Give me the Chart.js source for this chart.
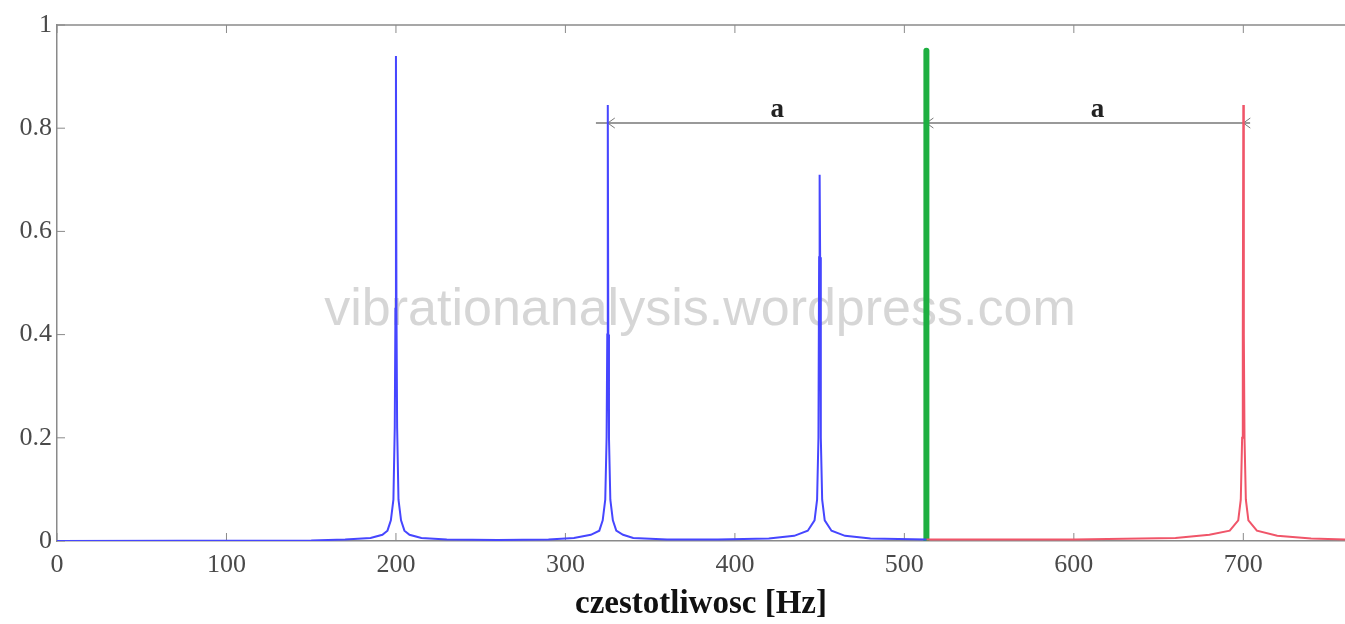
<!DOCTYPE html>
<html>
<head>
<meta charset="utf-8">
<script src="https://cdn.jsdelivr.net/npm/chart.js@4.4.1/dist/chart.umd.min.js"></script>
<style>
	html, body { margin: 0; padding: 0; background: #fff; }
	#wrap { width: 1345px; height: 624px; }
</style>
</head>
<body>
<div id="wrap"><canvas id="c"></canvas></div>
<script>

// spectrum, part below the green line (Hz, amplitude)
let blueFreq = [0, 150, 170, 185, 192, 195, 197, 198.5, 199.3, 199.7, 200, 200.3, 200.7, 201.5, 203, 205, 208, 215, 230, 260,
	290, 305, 315, 320, 322, 323.5, 324.3, 324.7, 325, 325.3, 325.7, 326.5, 328, 330, 334, 340, 360,
	390, 420, 435, 443, 447, 448.5, 449.3, 449.7, 450, 450.3, 450.7, 451.5, 453, 457, 465, 480, 513];
let blueAmp = [0, 0.001, 0.003, 0.006, 0.012, 0.02, 0.04, 0.08, 0.22, 0.45, 0.94, 0.45, 0.22, 0.08, 0.04, 0.02, 0.012, 0.006, 0.003, 0.002,
	0.003, 0.006, 0.012, 0.02, 0.04, 0.08, 0.2, 0.4, 0.845, 0.4, 0.2, 0.08, 0.04, 0.02, 0.012, 0.006, 0.003,
	0.003, 0.005, 0.01, 0.02, 0.04, 0.08, 0.2, 0.55, 0.71, 0.55, 0.2, 0.08, 0.04, 0.02, 0.01, 0.005, 0.003];

// mirrored part
let redFreq = [513, 600, 660, 680, 692, 697, 698.5, 699.3, 699.7, 700, 700.3, 700.7, 701.5, 703, 708, 720, 740, 760];
let redAmp = [0.003, 0.003, 0.006, 0.012, 0.02, 0.04, 0.08, 0.2, 0.4, 0.845, 0.4, 0.2, 0.08, 0.04, 0.02, 0.01, 0.005, 0.003];

// mirror line
let mirrorFreq = [513, 513];
let mirrorAmp = [0, 0.95];

let xTicks = [0, 100, 200, 300, 400, 500, 600, 700];
let yTicks = [0, 0.2, 0.4, 0.6, 0.8, 1];

// distance markers "a"
let arrowLevel = 0.81;
let arrowStart = 318;
let arrowEnd = 704;
let arrowHeads = [325, 513, 700];
let arrowLabels = ["a", "a"];
let arrowLabelFreq = [425, 614];
let arrowLabelLevel = 0.835;

let watermark = "vibrationanalysis.wordpress.com";

function toPoints(xs, ys) {
	let pts = [];
	for (let i = 0; i < xs.length; i++) pts.push({ x: xs[i], y: ys[i] });
	return pts;
}

let serif = "'Liberation Serif', 'DejaVu Serif', serif";

let extras = {
	id: 'extras',
	beforeDatasetsDraw(chart) {
		let ctx = chart.ctx;
		let xs = chart.scales.x;
		let ys = chart.scales.y;
		let area = chart.chartArea;

		ctx.save();
		// watermark
		ctx.font = "52px 'Liberation Sans', Arial, sans-serif";
		ctx.fillStyle = "rgba(200,200,200,0.75)";
		ctx.textAlign = "center";
		ctx.textBaseline = "middle";
		ctx.fillText(watermark, 700, 311);

		// frame top + inward ticks
		ctx.strokeStyle = "#8a8a8a";
		ctx.lineWidth = 1.5;
		ctx.beginPath();
		ctx.moveTo(area.left, area.top);
		ctx.lineTo(area.right, area.top);
		ctx.stroke();

		ctx.lineWidth = 1;
		ctx.beginPath();
		xTicks.forEach(function(v) {
			let px = xs.getPixelForValue(v);
			ctx.moveTo(px, area.bottom);
			ctx.lineTo(px, area.bottom - 8);
			ctx.moveTo(px, area.top);
			ctx.lineTo(px, area.top + 8);
		});
		yTicks.forEach(function(v) {
			let py = ys.getPixelForValue(v);
			ctx.moveTo(area.left, py);
			ctx.lineTo(area.left + 8, py);
		});
		ctx.stroke();

		// arrows
		let ay = ys.getPixelForValue(arrowLevel);
		ctx.strokeStyle = "#777";
		ctx.lineWidth = 1.5;
		ctx.beginPath();
		ctx.moveTo(xs.getPixelForValue(arrowStart), ay);
		ctx.lineTo(xs.getPixelForValue(arrowEnd), ay);
		ctx.stroke();

		ctx.lineWidth = 1;
		ctx.beginPath();
		arrowHeads.forEach(function(v) {
			let px = xs.getPixelForValue(v);
			ctx.moveTo(px + 7, ay - 5);
			ctx.lineTo(px, ay);
			ctx.lineTo(px + 7, ay + 5);
		});
		ctx.stroke();

		ctx.font = "bold 27px " + serif;
		ctx.fillStyle = "#222";
		for (let i = 0; i < arrowLabels.length; i++) {
			ctx.fillText(arrowLabels[i], xs.getPixelForValue(arrowLabelFreq[i]), ys.getPixelForValue(arrowLabelLevel));
		}
		ctx.restore();
	}
};

new Chart(document.getElementById("c"), {
	type: 'scatter',
	data: {
		datasets: [{
			data: toPoints(blueFreq, blueAmp),
			showLine: true,
			borderColor: "rgb(70,70,255)",
			borderWidth: 2,
			pointRadius: 0,
			tension: 0
		}, {
			data: toPoints(redFreq, redAmp),
			showLine: true,
			borderColor: "rgb(240,85,105)",
			borderWidth: 2,
			pointRadius: 0,
			tension: 0
		}, {
			data: toPoints(mirrorFreq, mirrorAmp),
			showLine: true,
			borderColor: "rgb(30,175,65)",
			borderWidth: 6,
			borderCapStyle: 'round',
			pointRadius: 0
		}]
	},
	options: {
		responsive: true,
		maintainAspectRatio: false,
		animation: false,
		layout: { padding: { top: 25, right: 0, left: 0, bottom: 0 } },
		plugins: {
			legend: { display: false },
			tooltip: { enabled: false }
		},
		scales: {
			x: {
				type: 'linear',
				min: 0,
				max: 760,
				afterFit: function(scale) { scale.height = 83; },
				afterBuildTicks: function(scale) {
					scale.ticks = xTicks.map(function(v) { return { value: v }; });
				},
				grid: { display: false, drawTicks: false },
				border: { display: true, color: "#8a8a8a", width: 1.5 },
				ticks: {
					padding: 9,
					color: "#4a4a4a",
					font: { family: serif, size: 26 }
				},
				title: {
					display: true,
					text: "czestotliwosc [Hz]",
					color: "#111",
					font: { family: serif, size: 33, weight: 'bold' },
					padding: { top: 0, bottom: 0 }
				}
			},
			y: {
				min: 0,
				max: 1,
				afterFit: function(scale) { scale.width = 57; },
				afterBuildTicks: function(scale) {
					scale.ticks = yTicks.map(function(v) { return { value: v }; });
				},
				grid: { display: false, drawTicks: false },
				border: { display: true, color: "#8a8a8a", width: 1.5 },
				ticks: {
					padding: 5,
					color: "#4a4a4a",
					font: { family: serif, size: 26 },
					callback: function(v) { return String(v); }
				}
			}
		}
	},
	plugins: [extras]
});

</script>
</body>
</html>
